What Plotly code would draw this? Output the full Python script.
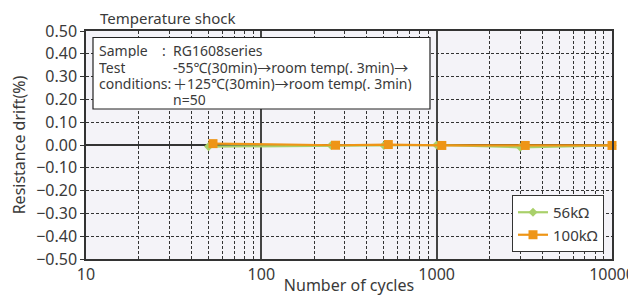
import plotly.graph_objects as go

cycles_56k = [50, 250, 500, 1000, 3000, 10000]
drift_56k = [-0.007, -0.002, -0.002, 0.0, -0.01, -0.002]
cycles_100k = [53, 265, 530, 1070, 3200, 10000]
drift_100k = [0.006, -0.001, 0.002, -0.002, -0.002, -0.002]
y_ticks = [0.5, 0.4, 0.3, 0.2, 0.1, 0.0, -0.1, -0.2, -0.3, -0.4, -0.5]
y_labels = ["0.50", "0.40", "0.30", "0.20", "0.10", "0.00",
            "\u22120.10", "\u22120.20", "\u22120.30", "\u22120.40", "\u22120.50"]
x_ticks = [10, 100, 1000, 10000]
x_labels = ["10", "100", "1000", "10000"]

FONT = "Noto Sans, Noto Sans CJK JP, sans-serif"
TXT = "#3a3a3a"

fig = go.Figure()
fig.add_trace(go.Scatter(
    x=cycles_56k, y=drift_56k, name="56k\u03a9", mode="lines+markers",
    line=dict(color="#a9d06a", width=2.2),
    marker=dict(symbol="diamond", size=7, color="#a9d06a"),
    cliponaxis=False))
fig.add_trace(go.Scatter(
    x=cycles_100k, y=drift_100k, name="100k\u03a9", mode="lines+markers",
    line=dict(color="#ee9516", width=2.2),
    marker=dict(symbol="square", size=9, color="#ee9516"),
    cliponaxis=False))

# page offset (body margin) compensation
OFF = 8
W, H = 636 - OFF, 296 - OFF
L, R, T, B = 86 - OFF, 24, 31 - OFF, 37
pw, ph = W - L - R, H - T - B

def px(x):
    # x in screenshot pixels
    return (x - OFF - L) / pw

def py(y):
    return (H - B - (y - OFF)) / ph

DASH = "3px,2px"

fig.update_layout(
    width=W, height=H,
    margin=dict(l=L, r=R, t=T, b=B, autoexpand=False),
    paper_bgcolor="white", plot_bgcolor="#f4f3f8",
    font=dict(family=FONT, size=14, color=TXT),
    showlegend=True,
    legend=dict(x=px(604), y=py(252), xanchor="right", yanchor="bottom",
                bgcolor="white", bordercolor="#333", borderwidth=1,
                font=dict(size=15, color=TXT), tracegroupgap=0,
                itemwidth=30),
    xaxis=dict(type="log", range=[1, 4], tickvals=x_ticks, ticktext=x_labels,
               automargin=False,
               showline=True, linecolor="#333", linewidth=1.5, mirror=True,
               showgrid=True, gridcolor="#444", gridwidth=1.5,
               ticks="", tickfont=dict(size=16, color=TXT),
               title=dict(text="Number of cycles", font=dict(size=16, color=TXT), standoff=0),
               minor=dict(dtick="D1", showgrid=True, gridcolor="#333",
                          griddash=DASH, gridwidth=1, ticks=""),
               zeroline=False),
    yaxis=dict(range=[-0.5, 0.5], tickvals=y_ticks, ticktext=y_labels,
               automargin=False,
               showline=True, linecolor="#333", linewidth=1.5, mirror=True,
               showgrid=True, gridcolor="#333", gridwidth=1, griddash=DASH,
               ticks="outside", ticklen=4, tickcolor="#333",
               tickfont=dict(size=16, color=TXT),
               zeroline=True, zerolinecolor="#333", zerolinewidth=1.5,
               title=dict(text="Resistance drift(%)", font=dict(size=16, color=TXT), standoff=10)),
)

# title
fig.add_annotation(text="Temperature shock", xref="paper", yref="paper",
                   x=px(98), y=py(18), xanchor="left", yanchor="middle",
                   showarrow=False, font=dict(size=15, color=TXT))

# condition box
fig.add_shape(type="rect", xref="paper", yref="paper",
              x0=px(93), x1=px(430), y0=py(109), y1=py(37.5),
              line=dict(color="#222", width=1.2), fillcolor="white", layer="above")

left_lines = [("Sample", 50), ("Test", 67), ("conditions:", 83)]
for t, yy in left_lines:
    fig.add_annotation(text=t, xref="paper", yref="paper", x=px(98), y=py(yy),
                       xanchor="left", yanchor="middle", showarrow=False,
                       height=15, align="left", borderpad=0,
                       font=dict(size=14, color=TXT))
fig.add_annotation(text=":", xref="paper", yref="paper", x=px(161), y=py(50),
                   xanchor="left", yanchor="middle", showarrow=False,
                   height=15, borderpad=0,
                   font=dict(size=14, color=TXT))
right_lines = [("RG1608series", 50),
               ("-55\u2103(30min)\u2192room temp(. 3min)\u2192", 67),
               ("\uff0b125\u2103(30min)\u2192room temp(. 3min)", 83),
               ("n=50", 99)]
for t, yy in right_lines:
    fig.add_annotation(text=t, xref="paper", yref="paper", x=px(172), y=py(yy),
                       xanchor="left", yanchor="middle", showarrow=False,
                       height=15, borderpad=0, align="left",
                       font=dict(size=14, color=TXT))

fig.write_html("out.html")
